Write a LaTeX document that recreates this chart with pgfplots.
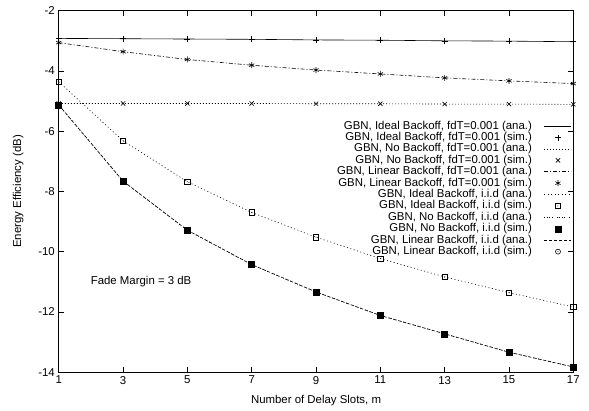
\documentclass[border=0pt]{standalone}
\usepackage{fontspec}
\setmainfont{Liberation Sans}
\usepackage{pgfplots}
\pgfplotsset{compat=1.18}

% gnuplot-like marks: square and circle with a centre dot
\pgfdeclareplotmark{sqdot}{%
  \pgfpathrectangle{\pgfpoint{-\pgfplotmarksize}{-\pgfplotmarksize}}{\pgfpoint{2\pgfplotmarksize}{2\pgfplotmarksize}}%
  \pgfusepathqstroke
  \pgfpathcircle{\pgfpointorigin}{0.5pt}\pgfusepathqfill}
\pgfdeclareplotmark{circdot}{%
  \pgfpathcircle{\pgfpointorigin}{\pgfplotmarksize}\pgfusepathqstroke
  \pgfpathcircle{\pgfpointorigin}{0.5pt}\pgfusepathqfill}

\begin{document}
\fontsize{11.4}{13.5}\selectfont
\begin{tikzpicture}
\begin{axis}[
    scale only axis, width=514pt, height=361pt,
    xmin=1, xmax=17, ymin=-14, ymax=-2,
    xtick={1,3,...,17}, ytick={-14,-12,...,-2},
    tick align=inside, major tick length=5pt,
    axis line style={line width=0.8pt},
    every tick/.style={black, line width=0.6pt},
    /pgf/number format/assume math mode=true,
    xlabel={Number of Delay Slots, m},
    ylabel={Energy Efficiency (dB)},
    x label style={at={(axis description cs:0.5,-0.078)}, anchor=center},
    y label style={at={(axis description cs:-0.079,0.5)}, anchor=center},
    every axis plot/.append style={line width=0.6pt, black},
    legend plot pos=right,
    legend cell align=right,
    legend image code/.code={\draw[mark repeat=2,mark phase=2,#1] plot coordinates {(0pt,0pt) (13.5pt,0pt) (27pt,0pt)};},
    legend style={draw=none, fill=none, inner sep=0pt, column sep=12pt,
        at={(axis description cs:0.9975,0.697)}, anchor=north east,
        nodes={inner sep=0.3pt, text height=8.4pt, text depth=2.4pt}},
]
% fdT = 0.001
\addplot[no marks] coordinates {
    (1,-2.92) (3,-2.93) (5,-2.94) (7,-2.95) (9,-2.97) (11,-2.98) (13,-3.00) (15,-3.01) (17,-3.03)};
\addlegendentry{GBN, Ideal Backoff, fdT=0.001 (ana.)}
\addplot[only marks, mark=+, mark size=3pt] coordinates {
    (1,-2.92) (3,-2.93) (5,-2.94) (7,-2.95) (9,-2.97) (11,-2.98) (13,-3.00) (15,-3.01) (17,-3.03)};
\addlegendentry{GBN, Ideal Backoff, fdT=0.001 (sim.)}
\addplot[no marks, dash pattern=on 1pt off 2pt] coordinates {
    (1,-5.08) (3,-5.08) (5,-5.08) (7,-5.08) (9,-5.09) (11,-5.09) (13,-5.10) (15,-5.10) (17,-5.11)};
\addlegendentry{GBN, No Backoff, fdT=0.001 (ana.)}
\addplot[only marks, mark=x, mark size=3pt] coordinates {
    (1,-5.08) (3,-5.08) (5,-5.08) (7,-5.08) (9,-5.09) (11,-5.09) (13,-5.10) (15,-5.10) (17,-5.11)};
\addlegendentry{GBN, No Backoff, fdT=0.001 (sim.)}
\addplot[no marks, dash pattern=on 4pt off 2pt on 1pt off 2pt] coordinates {
    (1,-3.06) (3,-3.36) (5,-3.62) (7,-3.81) (9,-3.97) (11,-4.10) (13,-4.23) (15,-4.33) (17,-4.42)};
\addlegendentry{GBN, Linear Backoff, fdT=0.001 (ana.)}
\addplot[only marks, mark=asterisk, mark size=3pt] coordinates {
    (1,-3.06) (3,-3.36) (5,-3.62) (7,-3.81) (9,-3.97) (11,-4.10) (13,-4.23) (15,-4.33) (17,-4.42)};
\addlegendentry{GBN, Linear Backoff, fdT=0.001 (sim.)}
% i.i.d
\addplot[no marks, dash pattern=on 1pt off 2.5pt] coordinates {
    (1,-4.36) (3,-6.32) (5,-7.68) (7,-8.70) (9,-9.52) (11,-10.23) (13,-10.84) (15,-11.36) (17,-11.84)};
\addlegendentry{GBN, Ideal Backoff, i.i.d (ana.)}
\addplot[only marks, mark=sqdot, mark size=2.7pt] coordinates {
    (1,-4.36) (3,-6.32) (5,-7.68) (7,-8.70) (9,-9.52) (11,-10.23) (13,-10.84) (15,-11.36) (17,-11.84)};
\addlegendentry{GBN, Ideal Backoff, i.i.d (sim.)}
\addplot[no marks, dash pattern=on 1pt off 1.5pt on 1pt off 1.5pt on 1pt off 1.5pt on 1pt off 4pt] coordinates {
    (1,-5.13) (3,-7.66) (5,-9.29) (7,-10.43) (9,-11.34) (11,-12.12) (13,-12.73) (15,-13.34) (17,-13.83)};
\addlegendentry{GBN, No Backoff, i.i.d (ana.)}
\addplot[only marks, mark=square*, mark size=3pt] coordinates {
    (1,-5.13) (3,-7.66) (5,-9.29) (7,-10.43) (9,-11.34) (11,-12.12) (13,-12.73) (15,-13.34) (17,-13.83)};
\addlegendentry{GBN, No Backoff, i.i.d (sim.)}
\addplot[no marks, dash pattern=on 3pt off 2pt] coordinates {
    (1,-5.13) (3,-7.66) (5,-9.29) (7,-10.43) (9,-11.34) (11,-12.12) (13,-12.73) (15,-13.34) (17,-13.83)};
\addlegendentry{GBN, Linear Backoff, i.i.d (ana.)}
\addplot[only marks, mark=circdot, mark size=2.5pt] coordinates {
    (1,-5.13) (3,-7.66) (5,-9.29) (7,-10.43) (9,-11.34) (11,-12.12) (13,-12.73) (15,-13.34) (17,-13.83)};
\addlegendentry{GBN, Linear Backoff, i.i.d (sim.)}
\node at (axis cs:3.56,-11) {Fade Margin = 3 dB};
\end{axis}
\pgfresetboundingbox
\path[use as bounding box] ([xshift=-58.7pt,yshift=-38.3pt]current axis.south west) rectangle ([xshift=15.7pt,yshift=10.7pt]current axis.north east);
\end{tikzpicture}
\end{document}
